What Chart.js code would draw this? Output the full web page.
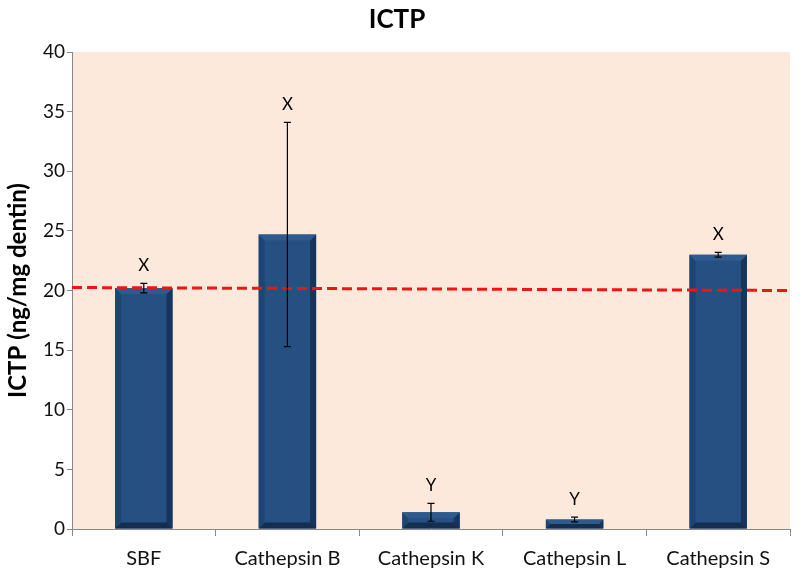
<!DOCTYPE html>
<html><head><meta charset="utf-8">
<script src="https://cdn.jsdelivr.net/npm/chart.js@4/dist/chart.umd.min.js"></script>
<style>html,body{margin:0;padding:0;background:#fff}#wrap{width:800px;height:580px}</style>
</head><body><div id="wrap"><canvas id="c" width="800" height="580"></canvas></div>
<script>
const categories = ["SBF", "Cathepsin B", "Cathepsin K", "Cathepsin L", "Cathepsin S"];
const values = [20.2, 24.7, 1.4, 0.8, 23.0];
const errors = [0.4, 9.4, 0.75, 0.2, 0.2];
const letters = ["X", "X", "Y", "Y", "X"];
const refLine = [20.25, 20.0];
const yTicks = [0, 5, 10, 15, 20, 25, 30, 35, 40];

const FONT = "Lato, 'Open Sans', sans-serif";

const bgPlugin = {
  id: 'bg',
  beforeDraw(chart) {
    const {ctx, chartArea: a} = chart;
    ctx.save();
    ctx.fillStyle = '#FDE9DB';
    ctx.fillRect(a.left, a.top, a.right - a.left, a.bottom - a.top);
    ctx.restore();
  }
};

const bevelPlugin = {
  id: 'bevel',
  afterDatasetDraw(chart, args) {
    if (args.index !== 0) return;
    const meta = chart.getDatasetMeta(0);
    const ctx = chart.ctx;
    meta.data.forEach(el => {
      const l = el.x - el.width / 2, r = el.x + el.width / 2, t = el.y, b = el.base;
      const e = Math.min(6, (b - t) / 2);
      ctx.save();
      ctx.fillStyle = '#17355C';
      ctx.beginPath(); ctx.moveTo(r, t); ctx.lineTo(r, b); ctx.lineTo(r - e, b - e); ctx.lineTo(r - e, t + e); ctx.closePath(); ctx.fill();
      ctx.fillStyle = '#142E50';
      ctx.beginPath(); ctx.moveTo(l, b); ctx.lineTo(r, b); ctx.lineTo(r - e, b - e); ctx.lineTo(l + e, b - e); ctx.closePath(); ctx.fill();
      ctx.fillStyle = '#1E4474';
      ctx.beginPath(); ctx.moveTo(l, t); ctx.lineTo(l, b); ctx.lineTo(l + e, b - e); ctx.lineTo(l + e, t + e); ctx.closePath(); ctx.fill();
      ctx.fillStyle = '#2E5A8E';
      ctx.beginPath(); ctx.moveTo(l, t); ctx.lineTo(r, t); ctx.lineTo(r - e, t + e); ctx.lineTo(l + e, t + e); ctx.closePath(); ctx.fill();
      ctx.restore();
    });
  }
};

const errPlugin = {
  id: 'err',
  afterDatasetsDraw(chart) {
    const meta = chart.getDatasetMeta(0);
    const y = chart.scales.y;
    const ctx = chart.ctx;
    ctx.save();
    meta.data.forEach((el, i) => {
      const yt = y.getPixelForValue(values[i] + errors[i]);
      const yb = y.getPixelForValue(values[i] - errors[i]);
      ctx.strokeStyle = '#000';
      ctx.lineWidth = 1.2;
      ctx.beginPath();
      ctx.moveTo(el.x, yt); ctx.lineTo(el.x, yb);
      ctx.moveTo(el.x - 3.5, yt); ctx.lineTo(el.x + 3.5, yt);
      ctx.moveTo(el.x - 3.5, yb); ctx.lineTo(el.x + 3.5, yb);
      ctx.stroke();
      ctx.fillStyle = '#000';
      ctx.font = "17px " + FONT;
      ctx.textAlign = 'center';
      ctx.textBaseline = 'alphabetic';
      ctx.fillText(letters[i], el.x, yt - 12);
    });
    ctx.restore();
  }
};

new Chart(document.getElementById('c'), {
  data: {
    labels: categories,
    datasets: [
      {
        type: 'bar',
        data: values,
        backgroundColor: '#264F82',
        borderWidth: 0,
        categoryPercentage: 1,
        barPercentage: 0.4,
        grouped: false,
        order: 2
      },
      {
        type: 'line',
        xAxisID: 'x2',
        data: [{x: 0, y: refLine[0]}, {x: 1, y: refLine[1]}],
        borderColor: '#F01414',
        borderWidth: 3,
        borderDash: [10, 5],
        pointRadius: 0,
        fill: false,
        order: 0
      }
    ]
  },
  plugins: [bgPlugin, bevelPlugin, errPlugin],
  options: {
    responsive: false,
    animation: false,
    layout: {padding: {left: 4, right: 10, top: 4, bottom: 0}},
    plugins: {
      legend: {display: false},
      tooltip: {enabled: false},
      title: {
        display: true,
        text: 'ICTP',
        font: {family: FONT, size: 26, weight: 'bold'},
        color: '#000',
        padding: {top: 0, bottom: 16.8}
      }
    },
    scales: {
      x: {
        type: 'category',
        offset: true,
        afterFit(scale) { scale.height = 51; },
        grid: {display: true, offset: true, drawOnChartArea: false, drawTicks: true, tickLength: 7, color: '#888'},
        border: {display: true, color: '#888', width: 1},
        ticks: {font: {family: FONT, size: 20}, color: '#111', padding: 11}
      },
      x2: {
        type: 'linear',
        min: 0, max: 1,
        display: false
      },
      y: {
        min: 0, max: 40,
        afterFit(scale) { scale.width = 68; },
        afterBuildTicks(scale) { scale.ticks = yTicks.map(v => ({value: v})); },
        grid: {display: true, drawOnChartArea: false, drawTicks: true, tickLength: 5, color: '#888'},
        border: {display: true, color: '#888', width: 1},
        ticks: {font: {family: FONT, size: 19}, color: '#111', padding: 2},
        title: {
          display: true,
          text: 'ICTP (ng/mg dentin)',
          font: {family: FONT, size: 24, weight: 'bold'},
          color: '#000',
          padding: {top: 0, bottom: 0}
        }
      }
    }
  }
});
</script>
</body></html>
